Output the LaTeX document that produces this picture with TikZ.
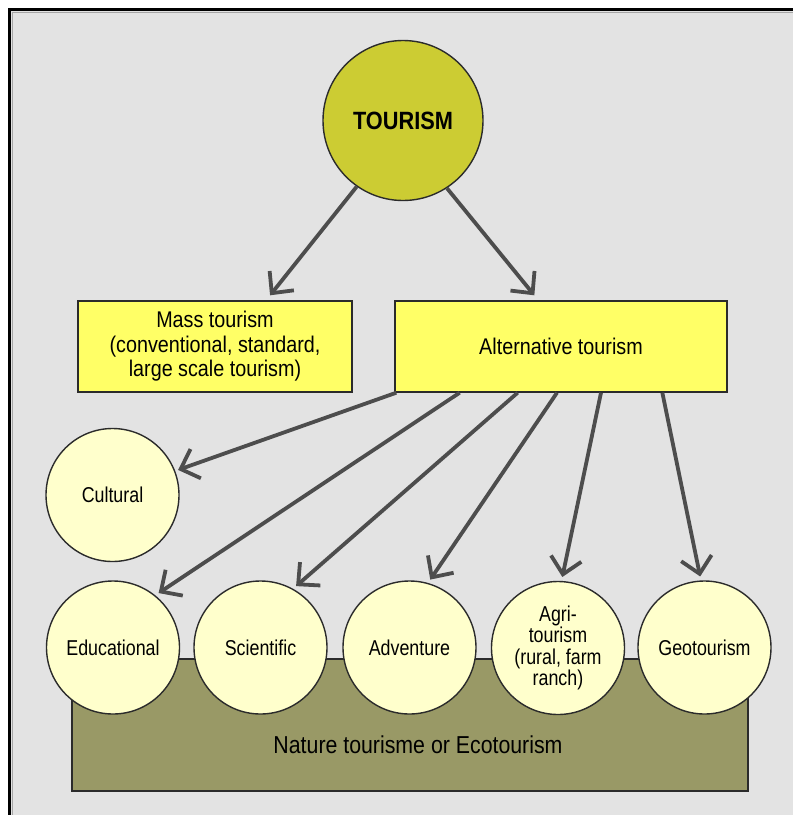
\documentclass[tikz,border=0pt]{standalone}
\usepackage{fontspec}
\setmainfont[FakeStretch=0.87]{Liberation Sans}
\newfontfamily\narrowsans[FakeStretch=0.83]{Liberation Sans}
\usetikzlibrary{arrows.meta,calc}
\definecolor{bggray}{HTML}{E3E3E3}
\definecolor{tourfill}{HTML}{CCCC33}
\definecolor{boxfill}{HTML}{FFFF66}
\definecolor{circfill}{HTML}{FFFFCC}
\definecolor{ecofill}{HTML}{999966}
\definecolor{arrowgray}{HTML}{4D4D4D}
\definecolor{edgegray}{HTML}{2B2B2B}
\tikzset{
  maincircle/.style={circle, draw=edgegray, line width=1.4pt, fill=tourfill,
    minimum size=160pt, inner sep=0pt, font=\fontsize{25}{28}\selectfont\bfseries},
  typebox/.style={rectangle, draw=edgegray, line width=1.4pt, fill=boxfill,
    minimum height=91pt, inner sep=0pt, align=center,
    font=\fontsize{22.7}{24.5}\selectfont},
  kindcircle/.style={circle, draw=edgegray, line width=1.4pt, fill=circfill,
    minimum size=133pt, inner sep=0pt, align=center,
    font=\narrowsans\fontsize{21.5}{21.5}\selectfont},
  ecobox/.style={rectangle, draw=edgegray, line width=1.4pt, fill=ecofill,
    minimum width=676pt, minimum height=132pt, inner sep=0pt},
  ecolabel/.style={font=\fontsize{24.5}{26}\selectfont},
  flow/.style={draw=arrowgray, line width=3.8pt,
    -{Straight Barb[length=16pt,width=31pt]}}
}
\begin{document}
\begin{tikzpicture}[x=1pt,y=-1pt]
  \useasboundingbox (0,0) rectangle (793,815);
  \clip (0,0) rectangle (793,815);
  % panel with a heavy frame
  \fill[bggray] (9,9) rectangle (900,900);
  \draw[gray!70, line width=1pt] (12,12) rectangle (900,900);
  \draw[black, line width=3pt] (9.5,9.5) rectangle (900,900);

  % root
  \node[maincircle] (T) at (403,120.5) {TOURISM};

  % two main branches
  \node[typebox, minimum width=274pt] (mass) at (215,346.5)
    {Mass tourism\\(conventional, standard,\\large scale tourism)};
  \node[typebox, minimum width=332pt] (alt) at (561,346.5) {Alternative tourism};

  % ecotourism base
  \node[ecobox] (eco) at (410,725) {};
  \node[ecolabel] (ecotext) at (418,745) {Nature tourisme or Ecotourism};

  % kinds of alternative tourism
  \node[kindcircle] (cult) at (112.5,495) {Cultural};
  \node[kindcircle] (edu) at (113,647.5) {Educational};
  \node[kindcircle] (sci) at (260.5,647.5) {Scientific};
  \node[kindcircle] (adv) at (409.5,647.5) {Adventure};
  \node[kindcircle] (agri) at (558,648) {Agri-\\tourism\\(rural, farm\\ranch)};
  \node[kindcircle] (geo) at (704.5,647.5) {Geotourism};

  % connectors
  \draw[flow] (T.-125) -- ($(mass.north west)!0.70!(mass.north east)+(0,-5)$);
  \draw[flow] (T.-57) -- ($(alt.north west)!0.42!(alt.north east)+(0,-5)$);

  \draw[flow, shorten >=3pt] ($(alt.south west)!0.006!(alt.south east)$) -- (cult.21);
  \draw[flow, shorten >=4pt] ($(alt.south west)!0.196!(alt.south east)$) -- (edu.51);
  \draw[flow, shorten >=4pt] ($(alt.south west)!0.37!(alt.south east)$) -- (sci.61);
  \draw[flow, shorten >=4pt] ($(alt.south west)!0.488!(alt.south east)$) -- (adv.74);
  \draw[flow, shorten >=4pt] ($(alt.south west)!0.62!(alt.south east)$) -- (agri.87);
  \draw[flow, shorten >=4pt] ($(alt.south west)!0.804!(alt.south east)$) -- (geo.93);
\end{tikzpicture}
\end{document}
